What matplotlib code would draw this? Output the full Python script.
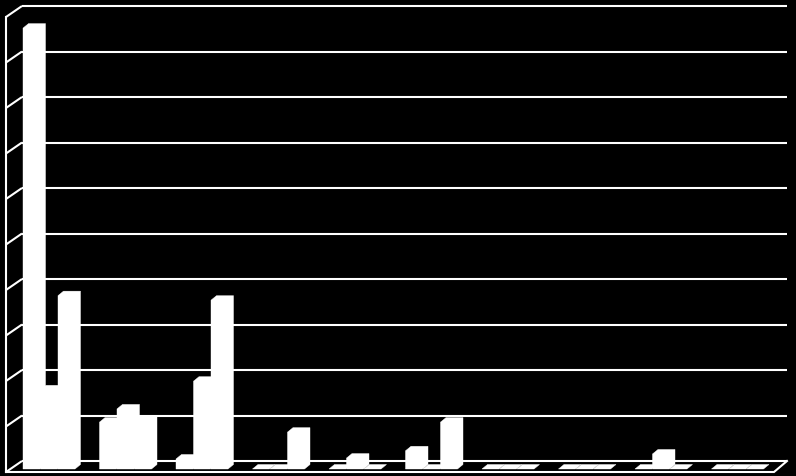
import matplotlib
matplotlib.use("Agg")
import matplotlib.pyplot as plt
from matplotlib.patches import Polygon

# ---- data (no labels are shown in the chart) ----
categories = ["1", "2", "3", "4", "5", "6", "7", "8", "9", "10"]
series_a = [96.9, 10.3, 2.2, 0.0, 0.0, 4.0, 0.0, 0.0, 0.0, 0.0]
series_b = [17.4, 13.2, 19.3, 0.0, 2.4, 0.0, 0.0, 0.0, 3.3, 0.0]
series_c = [38.1, 10.8, 37.1, 8.1, 0.0, 10.3, 0.0, 0.0, 0.0, 0.0]
grid_values = [0, 10, 20, 30, 40, 50, 60, 70, 80, 90, 100]

W, H = 796, 477
fig = plt.figure(figsize=(W / 100, H / 100), dpi=100, facecolor="black")

# back wall plane in pixels
left_px, right_px = 22, 787
floor_px, top_px = 462, 7
ax = fig.add_axes([left_px / W, (H - floor_px) / H,
                   (right_px - left_px) / W, (floor_px - top_px) / H])
ax.set_facecolor("black")
ax.set_axis_off()
n = len(categories)
ax.set_xlim(0, n)
ax.set_ylim(0, grid_values[-1])

px_x = (right_px - left_px) / n            # pixels per category unit
px_y = (floor_px - top_px) / grid_values[-1]  # pixels per value unit

lw = 1.5
# back wall gridlines
ax.hlines(grid_values, 0, n, colors="white", linewidths=lw, zorder=1, clip_on=False)

# left side wall (depth offset toward the viewer)
dxl, dyl = -16 / px_x, -11 / px_y
for v in grid_values:
    ax.plot([0, dxl], [v, v + dyl], color="white", lw=lw, zorder=1, clip_on=False,
            solid_capstyle="butt")
ax.plot([dxl, dxl], [dyl, grid_values[-1] + dyl], color="white", lw=lw, zorder=1,
        clip_on=False)
# floor front edge and right edge
dxr = -13 / px_x
ax.plot([dxl, n + dxr, n], [dyl, dyl, 0], color="white", lw=lw, zorder=1,
        clip_on=False, solid_joinstyle="miter")

# 3D bars (white prisms)
front_w = 17.0 / px_x
step = 17.5 / px_x
shift = 1.0 / px_x
ddx, ddy = 5.5 / px_x, 4.5 / px_y
base = -8.0 / px_y
z = 3
for i in range(n):
    for j, series in enumerate([series_a, series_b, series_c]):
        h = series[i]
        x = i + shift + j * step
        y0 = base
        y1 = base + h
        pts = [(x, y0), (x, y1), (x + ddx, y1 + ddy), (x + front_w + ddx, y1 + ddy),
               (x + front_w + ddx, y0 + ddy), (x + front_w, y0)]
        ax.add_patch(Polygon(pts, closed=True, facecolor="white", edgecolor="white",
                             lw=0.3, zorder=z, clip_on=False))
        z += 0.01

fig.savefig("out.png", dpi=100, facecolor="black")
